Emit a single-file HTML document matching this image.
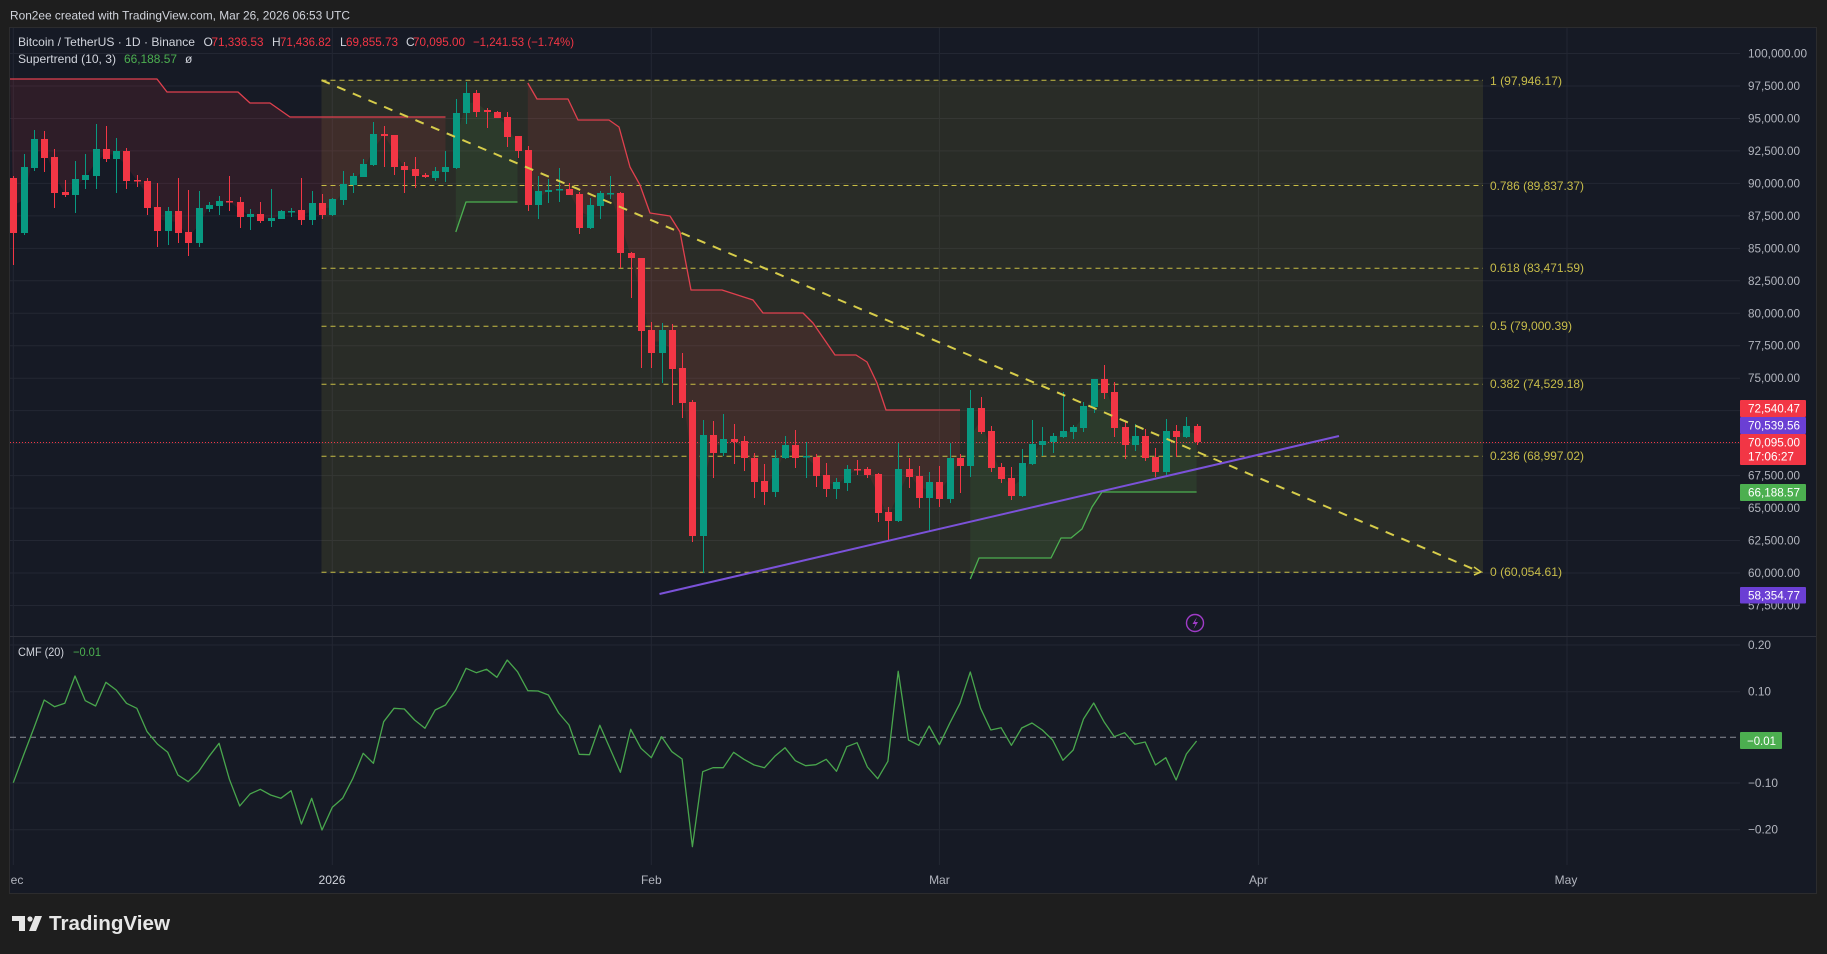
<!DOCTYPE html>
<html><head><meta charset="utf-8"><style>
html,body{margin:0;padding:0;background:#1e1e1e;}
svg{display:block;}
text{font-family:"Liberation Sans",sans-serif;}
</style></head><body>
<svg id="s" width="1827" height="954" viewBox="0 0 1827 954" xmlns="http://www.w3.org/2000/svg">
<rect width="1827" height="954" fill="#1e1e1e"/>
<text x="10" y="19.5" font-size="12" fill="#d1d4dc" textLength="340" lengthAdjust="spacingAndGlyphs">Ron2ee created with TradingView.com, Mar 26, 2026 06:53 UTC</text>
<rect x="9.5" y="27.5" width="1807" height="866" fill="#161a25" stroke="#2c2c2e"/>
<g id="gridg"></g>
<rect x="321.5" y="80.2" width="1161.5" height="492.1" fill="rgba(200,190,60,0.11)"/>
<g id="fillg"></g>
<g stroke="#c8bd45" stroke-width="1" stroke-dasharray="5 4">
<line x1="321.5" x2="1483" y1="80.2" y2="80.2"/>
<line x1="321.5" x2="1483" y1="185.5" y2="185.5"/>
<line x1="321.5" x2="1483" y1="268.2" y2="268.2"/>
<line x1="321.5" x2="1483" y1="326.2" y2="326.2"/>
<line x1="321.5" x2="1483" y1="384.3" y2="384.3"/>
<line x1="321.5" x2="1483" y1="456.2" y2="456.2"/>
<line x1="321.5" x2="1483" y1="572.3" y2="572.3"/>
</g>
<line x1="10" x2="1740" y1="442.5" y2="442.5" stroke="#f23645" stroke-width="1" stroke-dasharray="1 2"/>
<g id="candg"></g>
<g id="lineg"></g>
<line x1="321.5" y1="80.2" x2="1478" y2="571" stroke="#d6cc4a" stroke-width="2" stroke-dasharray="9 8"/>
<polyline points="1474,567 1481,572 1474,575" fill="none" stroke="#d6cc4a" stroke-width="1.5"/>
<line x1="659.5" y1="594" x2="1339" y2="436" stroke="#7b52d9" stroke-width="2"/>
<g font-size="12" fill="#c8bd4a">
<text x="1490" y="85" textLength="72" lengthAdjust="spacingAndGlyphs">1 (97,946.17)</text>
<text x="1490" y="190" textLength="94" lengthAdjust="spacingAndGlyphs">0.786 (89,837.37)</text>
<text x="1490" y="272" textLength="94" lengthAdjust="spacingAndGlyphs">0.618 (83,471.59)</text>
<text x="1490" y="330" textLength="82" lengthAdjust="spacingAndGlyphs">0.5 (79,000.39)</text>
<text x="1490" y="388" textLength="94" lengthAdjust="spacingAndGlyphs">0.382 (74,529.18)</text>
<text x="1490" y="460" textLength="94" lengthAdjust="spacingAndGlyphs">0.236 (68,997.02)</text>
<text x="1490" y="576" textLength="72" lengthAdjust="spacingAndGlyphs">0 (60,054.61)</text>
</g>
<g font-size="12">
<text x="18" y="46" fill="#d1d4dc" textLength="177" lengthAdjust="spacingAndGlyphs">Bitcoin / TetherUS · 1D · Binance</text>
<text x="203.5" y="46" fill="#d1d4dc">O</text>
<text x="211.5" y="46" fill="#f23645" textLength="52" lengthAdjust="spacingAndGlyphs">71,336.53</text>
<text x="272" y="46" fill="#d1d4dc">H</text>
<text x="280" y="46" fill="#f23645" textLength="51" lengthAdjust="spacingAndGlyphs">71,436.82</text>
<text x="340" y="46" fill="#d1d4dc">L</text>
<text x="346" y="46" fill="#f23645" textLength="52" lengthAdjust="spacingAndGlyphs">69,855.73</text>
<text x="406" y="46" fill="#d1d4dc">C</text>
<text x="413" y="46" fill="#f23645" textLength="52" lengthAdjust="spacingAndGlyphs">70,095.00</text>
<text x="473" y="46" fill="#f23645" textLength="101" lengthAdjust="spacingAndGlyphs">−1,241.53 (−1.74%)</text>
<text x="18" y="63" fill="#d1d4dc" textLength="98" lengthAdjust="spacingAndGlyphs">Supertrend (10, 3)</text>
<text x="124" y="63" fill="#4caf50" textLength="53" lengthAdjust="spacingAndGlyphs">66,188.57</text>
<text x="185" y="63" fill="#d1d4dc">ø</text>
<text x="18" y="656" fill="#d1d4dc" textLength="46" lengthAdjust="spacingAndGlyphs">CMF (20)</text>
<text x="73" y="656" fill="#4caf50" textLength="28" lengthAdjust="spacingAndGlyphs">−0.01</text>
</g>
<g font-size="12" fill="#b2b5be">
<text x="1748" y="57.5" textLength="59" lengthAdjust="spacingAndGlyphs">100,000.00</text>
<text x="1748" y="90" textLength="52" lengthAdjust="spacingAndGlyphs">97,500.00</text>
<text x="1748" y="122.4" textLength="52" lengthAdjust="spacingAndGlyphs">95,000.00</text>
<text x="1748" y="154.9" textLength="52" lengthAdjust="spacingAndGlyphs">92,500.00</text>
<text x="1748" y="187.4" textLength="52" lengthAdjust="spacingAndGlyphs">90,000.00</text>
<text x="1748" y="219.9" textLength="52" lengthAdjust="spacingAndGlyphs">87,500.00</text>
<text x="1748" y="252.3" textLength="52" lengthAdjust="spacingAndGlyphs">85,000.00</text>
<text x="1748" y="284.8" textLength="52" lengthAdjust="spacingAndGlyphs">82,500.00</text>
<text x="1748" y="317.3" textLength="52" lengthAdjust="spacingAndGlyphs">80,000.00</text>
<text x="1748" y="349.7" textLength="52" lengthAdjust="spacingAndGlyphs">77,500.00</text>
<text x="1748" y="382.2" textLength="52" lengthAdjust="spacingAndGlyphs">75,000.00</text>
<text x="1748" y="479.6" textLength="52" lengthAdjust="spacingAndGlyphs">67,500.00</text>
<text x="1748" y="512.1" textLength="52" lengthAdjust="spacingAndGlyphs">65,000.00</text>
<text x="1748" y="544.6" textLength="52" lengthAdjust="spacingAndGlyphs">62,500.00</text>
<text x="1748" y="577" textLength="52" lengthAdjust="spacingAndGlyphs">60,000.00</text>
<text x="1748" y="609.5" textLength="52" lengthAdjust="spacingAndGlyphs">57,500.00</text>
<text x="1748" y="649" textLength="23" lengthAdjust="spacingAndGlyphs">0.20</text>
<text x="1748" y="695.7" textLength="23" lengthAdjust="spacingAndGlyphs">0.10</text>
<text x="1748" y="787" textLength="30" lengthAdjust="spacingAndGlyphs">−0.10</text>
<text x="1748" y="833.7" textLength="30" lengthAdjust="spacingAndGlyphs">−0.20</text>
</g>
<rect x="1740" y="400" width="66" height="17" fill="#f23645" rx="1"/>
<rect x="1740" y="417" width="66" height="17" fill="#6b3fd4" rx="1"/>
<rect x="1740" y="434" width="66" height="31" fill="#f23645" rx="1"/>
<rect x="1740" y="484" width="66" height="17" fill="#4caf50" rx="1"/>
<rect x="1740" y="587" width="66" height="16.5" fill="#6b3fd4" rx="1"/>
<rect x="1740" y="732" width="42" height="17" fill="#4caf50" rx="1"/>
<g font-size="12" fill="#ffffff">
<text x="1748" y="412.5" textLength="52" lengthAdjust="spacingAndGlyphs">72,540.47</text>
<text x="1748" y="429.5" textLength="52" lengthAdjust="spacingAndGlyphs">70,539.56</text>
<text x="1748" y="446.5" textLength="52" lengthAdjust="spacingAndGlyphs">70,095.00</text>
<text x="1748" y="460.5" textLength="46" lengthAdjust="spacingAndGlyphs">17:06:27</text>
<text x="1748" y="496.5" textLength="52" lengthAdjust="spacingAndGlyphs">66,188.57</text>
<text x="1748" y="599.5" textLength="52" lengthAdjust="spacingAndGlyphs">58,354.77</text>
<text x="1747" y="745" textLength="29" lengthAdjust="spacingAndGlyphs">−0.01</text>
</g>
<g font-size="12" fill="#b2b5be" text-anchor="middle">
<text x="17" y="884">ec</text>
<text x="332" y="884" fill="#d1d4dc" textLength="27" lengthAdjust="spacingAndGlyphs">2026</text>
<text x="651.3" y="884">Feb</text>
<text x="939.4" y="884">Mar</text>
<text x="1258.4" y="884">Apr</text>
<text x="1566" y="884">May</text>
</g>
<circle cx="1195" cy="623" r="8.5" fill="none" stroke="#a03cc8" stroke-width="1.4"/>
<path d="M1197 617 L1192.5 624 L1195.5 624 L1193.5 629 L1198 622 L1195 622 Z" fill="#a03cc8"/>
<g fill="#e6e6e6">
<rect x="12" y="916" width="13" height="5"/>
<rect x="19" y="916" width="6" height="15"/>
<circle cx="30" cy="919" r="2.6"/>
<polygon points="35,916 42,916 36,931 29,931"/>
<text x="49" y="930" font-size="20" font-weight="bold" textLength="121" lengthAdjust="spacingAndGlyphs">TradingView</text>
</g>
</svg>
<script>
(function(){
var C=[[178,176,265,233],[233,154,235,167],[168,130,171,139],[139,131,172,158],[157,149,208,193],[192,180,197,195],[195,161,213,179],[180,154,189,175],[176,124,189,149],[149,126,162,159],
[159,138,193,151],[151,148,189,181],[180,175,187,181],[181,178,215,208],[207,183,247,231],[231,207,245,211],[211,178,243,233],[232,190,256,243],[243,191,247,208],[209,202,212,205],
[206,196,215,201],[201,176,211,202],[202,197,228,217],[217,209,230,214],[214,202,223,221],[221,189,227,218],[219,210,219,211],[212,208,217,211],[210,178,225,220],[220,191,225,203],
[203,194,219,215],[215,198,216,199],[200,171,205,184],[185,173,193,176],[177,159,177,164],[165,122,166,134],[134,126,167,136],[135,135,175,167],[166,162,193,170],[169,157,188,176],
[175,173,178,177],[178,167,181,171],[172,151,182,167],[168,99,169,113],[113,82,124,93],[93,90,117,112],[110,108,128,112],[112,111,118,118],[117,112,147,137],[136,136,158,151],
[150,146,211,205],[205,176,219,191],[192,179,203,190],[190,168,202,189],[189,183,195,195],[194,192,234,228],[228,198,229,205],[206,191,219,193],[194,176,199,193],[193,192,268,253],
[253,252,298,258],[258,258,368,331],[330,322,368,353],[353,323,383,330],[330,324,405,369],[368,353,418,403],[402,400,542,536],[536,420,573,435],[435,421,478,453],[453,414,456,439],
[439,424,464,442],[441,436,471,458],[458,453,498,482],[481,464,505,492],[492,450,497,458],[458,436,459,445],[445,430,468,458],[457,442,478,456],[457,454,487,476],[475,463,497,489],
[489,478,499,482],[483,465,491,469],[469,460,475,470],[469,467,478,475],[474,473,522,513],[512,507,540,521],[521,443,522,469],[469,458,488,477],[476,466,508,498],[498,472,532,482],
[482,466,507,499],[499,443,503,458],[458,454,493,466],[466,390,477,408],[408,397,434,432],[431,426,472,468],[467,463,483,479],[478,467,500,496],[496,449,497,463],[464,420,465,444],
[445,427,456,441],[442,433,453,436],[437,392,438,431],[432,425,439,427],[428,402,432,406],[407,379,413,379],[379,365,399,393],[392,382,437,428],[427,422,459,445],[445,424,451,436],
[436,429,461,458],[457,448,477,472],[472,419,475,431],[431,425,457,437],[437,417,438,426],[426,424,445,442]];
var CMF=[782.7,755,728,700,706.7,703.3,676,700.7,706,682.3,690,703.3,708.3,731.7,744,752.3,775,781.7,771.7,756.7,
743.3,779.3,806,794,789.3,795,798.3,790.7,824,798.3,830,807.3,798.3,778.3,753.3,763.3,721.7,708.3,709,720,
728.3,710,705,690,668.3,672.7,669.3,677.3,660,671.7,690.7,691,695,713,725,754.3,754.7,725.3,748.7,772.3,
729.3,748.3,757.7,736.7,751.7,759,846.7,771.7,767.7,767.7,752.3,759.3,765,767.7,756.3,747.7,760.7,765.7,764.7,759.3,
771.3,746.7,742.7,767,778.7,761.3,671.3,740,745.3,726,744.7,723.3,703.3,672,708.3,730,727.7,745.3,728,723,
730,740,760.3,750,719,703,721.7,736.7,732.7,744.3,742,765,757.7,780,754,741];
var NS='http://www.w3.org/2000/svg';
function X(d){return 13.3+d*10.29;}
function el(parentId,tag,attrs){
  var e=document.createElementNS(NS,tag);
  for(var k in attrs){e.setAttribute(k,attrs[k]);}
  document.getElementById(parentId).appendChild(e);
  return e;
}
function ptsStr(pts){return pts.map(function(q){return q[0].toFixed(1)+','+q[1].toFixed(1);}).join(' ');}
// grid
for(var p=100000;p>=57500;p-=2500){var y=(53.5+(100000-p)*0.012988);el('gridg','line',{x1:10,x2:1740,y1:y,y2:y,stroke:'#232733','stroke-width':1});}
[645,691.7,783,829.7].forEach(function(y){el('gridg','line',{x1:10,x2:1740,y1:y,y2:y,stroke:'#232733','stroke-width':1});});
[13.3,332.3,651.3,939.4,1258.4,1567].forEach(function(x){el('gridg','line',{x1:x,x2:x,y1:28,y2:865,stroke:'#232733','stroke-width':1});});
el('gridg','line',{x1:10,x2:1816,y1:636.5,y2:636.5,stroke:'#2e313b','stroke-width':1});
el('gridg','line',{x1:10,x2:1740,y1:737.3,y2:737.3,stroke:'#8a8d96','stroke-width':1,'stroke-dasharray':'6 4'});
// fills
function fillPoly(line,d0,d1,col){
  var pts=line.slice();
  for(var d=d1;d>=d0;d--){var k=C[d];pts.push([X(d),(k[0]+k[3])/2]);}
  el('fillg','polygon',{points:ptsStr(pts),fill:col});
}
var red1=[[10,79],[157,79],[167,92],[238,92],[250,103],[270,103],[290,117],[445.5,117]];
var grn1=[[455.8,232],[466,202],[517.5,202]];
var red2=[[527.8,83],[537,99],[568,99],[578,120],[609,120],[619,127],[630,167],[640,185],[650,213],[670,216],[680,232],[691,290],[722,290],[753,300],[763,313],[803,313],[813,323],[835,355],[856,355],[867,362],[877,383],[886,410],[960,410]];
var grn2=[[970.3,579],[979,558],[1051,558],[1061,538],[1071,538],[1082,529],[1092,507],[1102,492],[1196.6,492]];
var RF='rgba(242,54,69,0.11)',GF='rgba(76,175,80,0.11)';
fillPoly(red1,0,42,RF);fillPoly(grn1,43,49,GF);fillPoly(red2,50,92,RF);fillPoly(grn2,93,115,GF);
// candles
C.forEach(function(k,d){
  var o=k[0],h=k[1],l=k[2],c=k[3];var x=Math.round(X(d));var col=(c<o)?'#089981':'#f23645';
  var top=Math.min(o,c),bot=Math.max(o,c);
  el('candg','line',{x1:x+0.5,x2:x+0.5,y1:h,y2:l,stroke:col,'stroke-width':1});
  el('candg','rect',{x:x-3,y:top,width:7,height:Math.max(bot-top,1.5),fill:col});
});
// lines
function pl(pts,col,w){el('lineg','polyline',{points:ptsStr(pts),fill:'none',stroke:col,'stroke-width':w,'stroke-linejoin':'round'});}
pl(red1,'#e0404e',1.3);pl(red2,'#e0404e',1.3);pl(grn1,'#4caf50',1.3);pl(grn2,'#4caf50',1.3);
pl(CMF.map(function(y,d){return [X(d),y];}),'#49a64d',1.3);
})();
</script>
</body></html>
